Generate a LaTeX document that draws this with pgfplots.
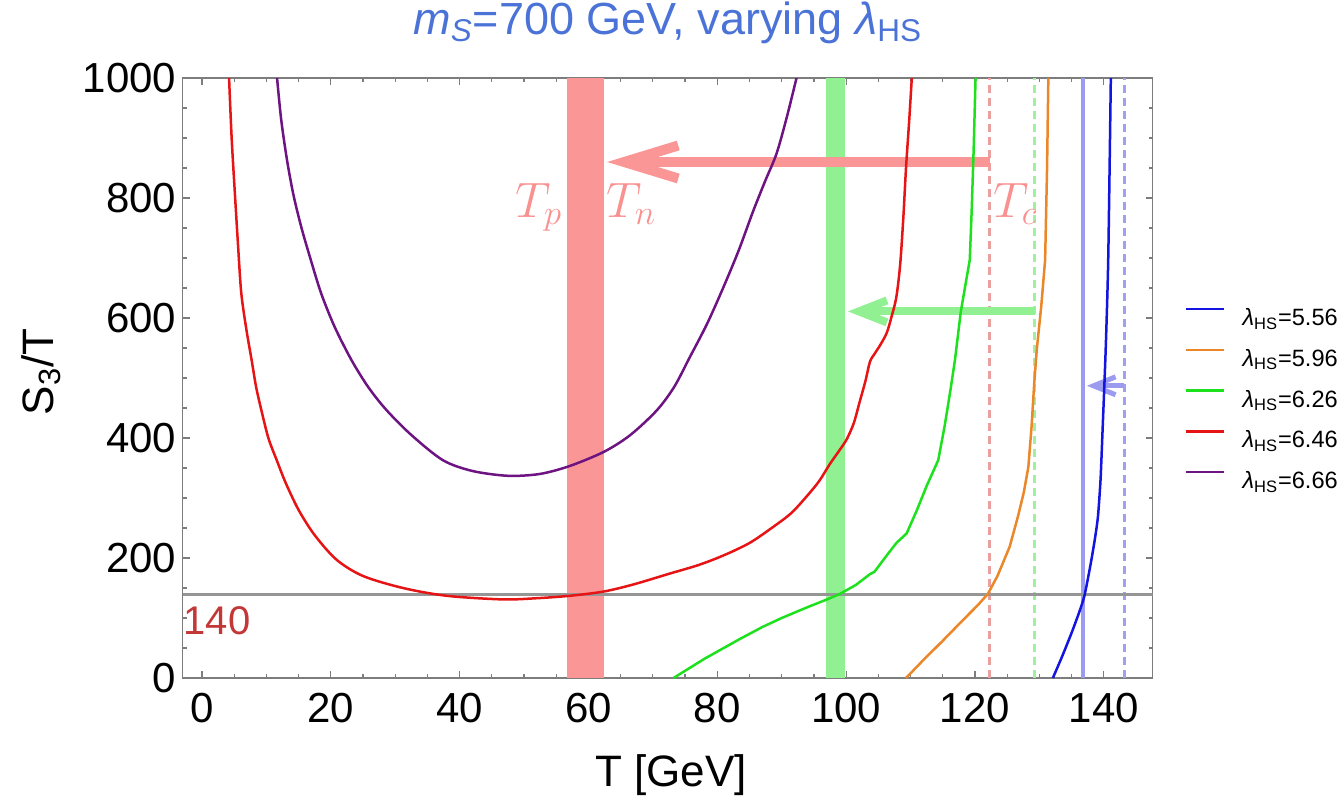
\documentclass[border=0pt]{standalone}
\usepackage{fontspec}
\setmainfont{Liberation Sans}
\usepackage{pgfplots}
\pgfplotsset{compat=1.18}
\usetikzlibrary{arrows.meta}

\definecolor{cBlue}{RGB}{20,20,225}
\definecolor{cOrange}{RGB}{235,135,40}
\definecolor{cGreen}{RGB}{30,225,30}
\definecolor{cRed}{RGB}{230,20,20}
\definecolor{cPurple}{RGB}{110,20,130}
\definecolor{bandRed}{RGB}{250,150,150}
\definecolor{bandGreen}{RGB}{145,240,145}
\definecolor{bandBlue}{RGB}{155,155,240}
\definecolor{dashRed}{RGB}{235,160,160}
\definecolor{dashGreen}{RGB}{160,240,160}
\definecolor{dashBlue}{RGB}{160,160,240}
\definecolor{titleBlue}{RGB}{75,115,215}
\definecolor{labelRed}{RGB}{195,55,55}
\definecolor{tRed}{RGB}{250,145,145}
\definecolor{frameGray}{RGB}{125,125,125}
\definecolor{refGray}{RGB}{150,150,150}

\begin{document}
\begin{tikzpicture}
\useasboundingbox (-91.35pt,-61pt) rectangle (578.65pt,339pt);
\begin{axis}[
  at={(0pt,0pt)}, anchor=south west,
  scale only axis, width=485pt, height=300pt,
  xmin=-3, xmax=147.6, ymin=0, ymax=1000,
  xtick={0,20,...,140}, ytick={0,200,...,1000},
  minor x tick num=3, minor y tick num=3,
  tick align=inside,
  major tick length=3.5pt, minor tick length=2pt,
  axis line style={frameGray, line width=0.6pt},
  every tick/.style={frameGray, line width=0.6pt},
  /pgf/number format/assume math mode=true,
  /pgf/number format/1000 sep={},
  tick label style={font=\fontsize{21}{21}\selectfont},
  xticklabel style={inner sep=0pt, yshift=-7.5pt},
  yticklabel style={inner sep=0pt, xshift=-3pt},
  xlabel={T [GeV]},
  xlabel style={at={(axis description cs:0.5034,-0.18)}, anchor=base, inner sep=0pt,
    font=\fontsize{22}{22}\selectfont},
  ylabel={S\textsubscript{3}/T},
  ylabel style={at={(axis description cs:-0.1461,0.51)}, anchor=center, inner sep=0pt,
    font=\fontsize{22}{22}\selectfont},
  title={\textit{m}\textsubscript{\textit{S}}=700 GeV, varying \textit{λ}\textsubscript{HS}},
  title style={at={(axis description cs:0.5,1.053)}, anchor=base, inner sep=0pt,
    font=\fontsize{22.5}{23}\selectfont, text=titleBlue},
  legend style={at={(axis description cs:1,0.465)}, anchor=west, xshift=16.15pt,
    draw=none, fill=none, inner sep=0pt, outer sep=0pt, row sep=10.4pt,
    font=\fontsize{11.8}{12}\selectfont,
    nodes={inner sep=0pt, text height=9pt, text depth=1pt}},
  legend cell align=left,
  legend image code/.code={\draw[#1] (0pt,4.2pt) -- (19pt,4.2pt); \path (27.5pt,0pt);},
]
% shaded temperature bands
\addplot[draw=none, fill=bandRed, forget plot] coordinates {(56.6,0) (62.4,0) (62.4,1000) (56.6,1000)} -- cycle;
\addplot[draw=none, fill=bandGreen, forget plot] coordinates {(96.8,0) (99.9,0) (99.9,1000) (96.8,1000)} -- cycle;
\addplot[draw=none, fill=bandBlue, forget plot] coordinates {(136.4,0) (137.1,0) (137.1,1000) (136.4,1000)} -- cycle;
% critical temperatures
\addplot[dashRed, line width=1.5pt, dash pattern=on 4pt off 2.5pt, forget plot] coordinates {(122.3,0) (122.3,1000)};
\addplot[dashGreen, line width=1.5pt, dash pattern=on 4pt off 2.5pt, forget plot] coordinates {(129.3,0) (129.3,1000)};
\addplot[dashBlue, line width=1.5pt, dash pattern=on 4pt off 2.5pt, forget plot] coordinates {(143.2,0) (143.2,1000)};
% supercooling arrows
\addplot[bandRed, line width=5pt, -{Straight Barb[length=27pt,width=16.5pt]}, forget plot] coordinates {(122.3,860) (62.9,860)};
\addplot[bandGreen, line width=4pt, -{Straight Barb[length=14pt,width=11pt]}, forget plot] coordinates {(129.3,611) (100.3,611)};
\addplot[bandBlue, line width=2.5pt, -{Straight Barb[length=11pt,width=9pt]}, forget plot] coordinates {(143.2,487) (137.4,487)};
% S3/T = 140 criterion
\addplot[refGray, line width=1.5pt, forget plot] coordinates {(-3,140) (147.6,140)};

\addplot[cBlue, line width=1.25pt, smooth, tension=0.4] coordinates {
(132.1,0)(133.5,35)(135,75)(136.2,110)(137,137)(137.9,186)(138.6,230)(139.1,269)
(139.5,330)(139.8,408)(140.3,547)(140.7,700)(141.1,1000)};
\addlegendentry{\textit{λ}\textsubscript{HS}=5.56}

\addplot[cOrange, line width=1.25pt] coordinates {
(109.3,0)(112,30)(115,62)(118,95)(120.5,122)(122,140)(123.5,170)(125.4,219)
(126.7,270)(127.6,310)(128.3,352)(128.8,420)(129.2,490)(129.6,547)(130.3,620)
(130.9,697)(131.2,850)(131.4,1000)};
\addlegendentry{\textit{λ}\textsubscript{HS}=5.96}

\addplot[cGreen, line width=1.25pt] coordinates {
(73.2,0)(75,12)(78,32)(81,50)(83.5,65)(87,85)(90,100)(94,118)(97.5,133)(99,140)
(101.5,155)(103.7,173)(104.4,177)(106,200)(107.8,225)(109.4,241)(111,280)
(112.5,320)(114.3,363)(115.3,420)(116.2,480)(116.9,530)(117.8,610)(118.6,660)
(119.2,697)(119.5,780)(119.8,880)(120.1,1000)};
\addlegendentry{\textit{λ}\textsubscript{HS}=6.26}

\addplot[cRed, line width=1.25pt, smooth, tension=0.5] coordinates {
(4.2,1000)(4.6,900)(5.1,808)(5.6,720)(6.1,641)(6.9,580)(7.7,530)(8.4,485)
(9.2,447)(10.3,400)(11.6,363)(13,325)(15,280)(17.5,238)(20.9,197)(25,170)
(31.2,150)(38,137)(46.7,131)(52,133)(57.1,137)(62.3,144)(67,156)(72.6,174)
(77,188)(80.9,204)(85,225)(88.7,252)(91.5,275)(93.9,303)(95.8,328)(97.5,357)
(99,380)(100.1,398)(101.2,425)(102.1,460)(103,495)(103.7,527)(104.4,540)
(105.3,555)(106.3,575)(107,600)(107.8,635)(108.4,690)(108.9,770)(109.3,850)
(109.8,930)(110.2,1000)};
\addlegendentry{\textit{λ}\textsubscript{HS}=6.46}

\addplot[cPurple, line width=1.25pt, smooth, tension=0.5] coordinates {
(11.65,1000)(12.3,930)(13.2,863)(14.2,805)(15.4,752)(16.8,700)(18.5,641)
(20.6,585)(23.2,530)(25.8,485)(28.6,447)(32.5,405)(37.4,363)(42,345)(47.5,337)
(52.4,340)(57,353)(62.4,377)(66.5,405)(70.6,446)(73.3,485)(75.7,534)(78.4,590)
(80.9,650)(83.3,712)(85.6,779)(87.5,830)(89.2,874)(90.8,935)(92.3,1000)};
\addlegendentry{\textit{λ}\textsubscript{HS}=6.66}

\node[labelRed, anchor=base west, inner sep=0pt, font=\fontsize{20}{20}\selectfont] at (axis cs:-2.9,71.7) {140};
\node[tRed, anchor=base west, inner sep=0pt, font=\fontsize{23.5}{24}\selectfont] at (axis cs:48.6,768) {$T_p$};
\node[tRed, anchor=base west, inner sep=0pt, font=\fontsize{23.5}{24}\selectfont] at (axis cs:62.7,768) {$T_n$};
\node[tRed, anchor=base west, inner sep=0pt, font=\fontsize{23.5}{24}\selectfont] at (axis cs:122.8,768) {$T_c$};
\end{axis}
\end{tikzpicture}
\end{document}
